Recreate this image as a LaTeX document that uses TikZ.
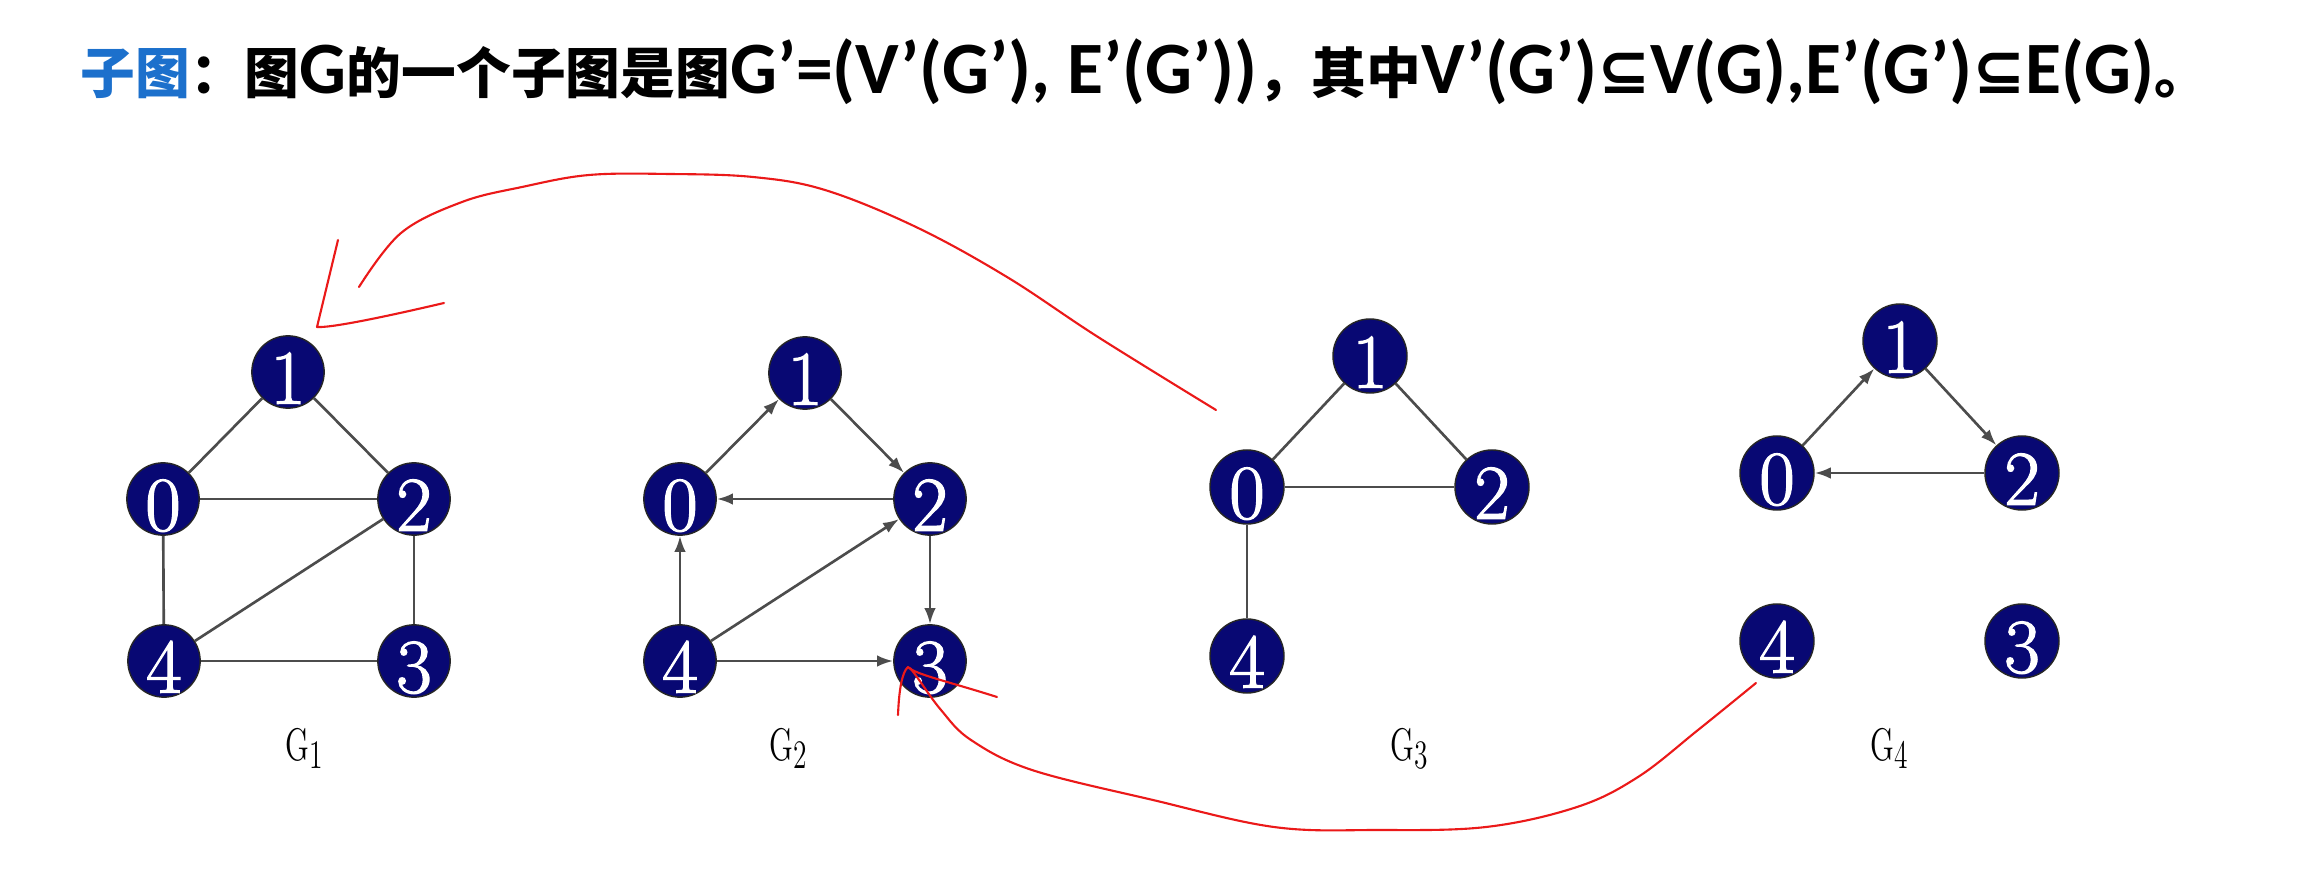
\documentclass[tikz,border=0pt]{standalone}
\usepackage{fontspec}
\usetikzlibrary{arrows.meta}
\newfontfamily\cjkf{Noto Sans CJK SC}
\newfontfamily\latf{Carlito}
\newfontfamily\symf{DejaVu Sans}
\newfontfamily\digf{Latin Modern Roman}[FakeBold=1.6]
\definecolor{vnavy}{RGB}{8,8,115}
\definecolor{tblue}{RGB}{28,112,204}
\definecolor{inkred}{RGB}{235,25,25}
\newcommand\latx[1]{{\latf\bfseries\fontsize{21}{21}\selectfont #1}}
\newcommand\subq{{\symf\fontsize{18}{18}\selectfont ⊆}}
\newcommand\glab[1]{\scalebox{0.68}[1]{\fontsize{13}{13}\selectfont G\raisebox{-0.8mm}{\fontsize{11.5}{11.5}\selectfont #1}}}
\tikzset{
  vtx/.style={circle, fill=vnavy, draw=black!85, line width=0.4pt, inner sep=0pt,
    minimum size=0.70cm, text=white, font=\digf\fontsize{22}{22}\selectfont,
    text height=18pt, text depth=0pt},
  vtxb/.style={vtx, minimum size=0.74cm},
  ln/.style={draw=black!70, line width=0.75pt},
  dirln/.style={ln, -{Latex[length=1.6mm,width=1.15mm]}},
  ann/.style={draw=inkred, line width=0.6pt, line cap=round, line join=round},
  glabel/.style={anchor=base west, inner sep=0pt}
}
\begin{document}
\begin{tikzpicture}[x=0.01cm, y=-0.01cm]
\fill[white] (0,0) rectangle (2308,873);
\path[use as bounding box] (0,0) rectangle (2308,873);

% title
\node[anchor=west, inner sep=0pt] (title) at (80,72)
  {\resizebox{21.27cm}{\height}{\cjkf\bfseries\fontsize{15.6}{15.6}\selectfont\textcolor{tblue}{子图}：图\latx{G}的一个子图是图\latx{G’=(V’(G’), E’(G’))}，其中\latx{V’(G’)}\subq\latx{V(G),E’(G’)}\subq\latx{E(G)}。}};

% G1
\node[vtx] (a1) at (288,372) {1};
\node[vtx] (a0) at (163,499) {0};
\node[vtx] (a2) at (414,499) {2};
\node[vtx] (a4) at (164,661) {4};
\node[vtx] (a3) at (414,661) {3};
\draw[ln] (a1) -- (a0);
\draw[ln] (a1) -- (a2);
\draw[ln] (a0) -- (a2);
\draw[ln] (a0) -- (a4);
\draw[ln] (a2) -- (a4);
\draw[ln] (a2) -- (a3);
\draw[ln] (a4) -- (a3);
\node[glabel] (g1) at (285,760) {\glab{1}};

% G2
\node[vtx] (b1) at (805,373) {1};
\node[vtx] (b0) at (680,499) {0};
\node[vtx] (b2) at (930,499) {2};
\node[vtx] (b4) at (680,661) {4};
\node[vtx] (b3) at (930,661) {3};
\draw[dirln] (b0) -- (b1);
\draw[dirln] (b1) -- (b2);
\draw[dirln] (b2) -- (b0);
\draw[dirln] (b4) -- (b0);
\draw[dirln] (b4) -- (b2);
\draw[dirln] (b2) -- (b3);
\draw[dirln] (b4) -- (b3);
\node[glabel] (g2) at (769,760) {\glab{2}};

% G3
\node[vtxb] (c1) at (1370,356) {1};
\node[vtxb] (c0) at (1247,487) {0};
\node[vtxb] (c2) at (1492,487) {2};
\node[vtxb] (c4) at (1247,656) {4};
\draw[ln] (c1) -- (c0);
\draw[ln] (c1) -- (c2);
\draw[ln] (c0) -- (c2);
\draw[ln] (c0) -- (c4);
\node[glabel] (g3) at (1390,760) {\glab{3}};

% G4
\node[vtxb] (d1) at (1900,341) {1};
\node[vtxb] (d0) at (1777,473) {0};
\node[vtxb] (d2) at (2022,473) {2};
\node[vtxb] (d4) at (1777,641) {4};
\node[vtxb] (d3) at (2022,641) {3};
\draw[dirln] (d0) -- (d1);
\draw[dirln] (d1) -- (d2);
\draw[dirln] (d2) -- (d0);
\node[glabel] (g4) at (1870,760) {\glab{4}};

% red annotation 1 (G3 -> G1)
\coordinate (r1s) at (1216,410);
\coordinate (r1e) at (359,287);
\draw[ann] plot[smooth, tension=0.6] coordinates {(1216,410) (1098,337) (1007,277) (916,227) (825,190) (753,177) (670,174) (589,175) (522,187) (462,202) (401,233) (359,287)};
\coordinate (h1a) at (338,240);
\coordinate (h1t) at (317,327);
\coordinate (h1b) at (444,303);
\draw[ann] (h1a) -- (h1t) .. controls (330,328) and (380,318) .. (h1b);

% red annotation 2 (G4 -> G2)
\coordinate (r2s) at (1756,683);
\coordinate (r2e) at (910,668);
\draw[ann] plot[smooth, tension=0.6] coordinates {(1756,683) (1698,730) (1638,777) (1577,807) (1486,827) (1377,830) (1274,827) (1153,800) (1032,770) (971,740) (941,710) (917,677) (910,668)};
\coordinate (h2a) at (898,715);
\coordinate (h2t) at (908,667);
\coordinate (h2b) at (997,697);
\draw[ann] (h2a) .. controls (899,690) and (902,672) .. (h2t) .. controls (914,674) and (950,682) .. (h2b);
\end{tikzpicture}
\end{document}
